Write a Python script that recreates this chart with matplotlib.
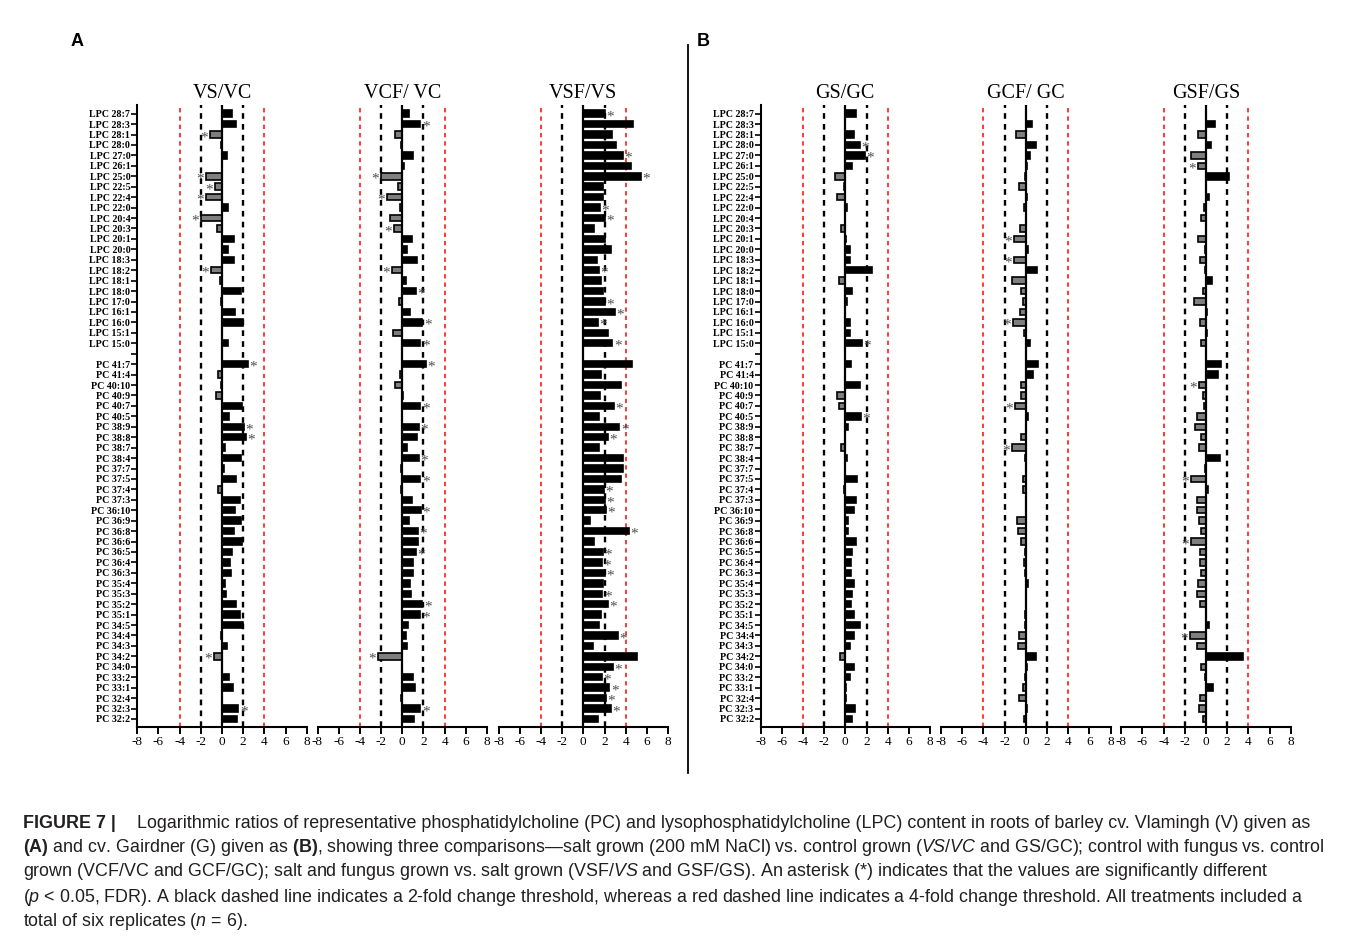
import matplotlib
matplotlib.use("Agg")
import matplotlib.pyplot as plt
from matplotlib.lines import Line2D
import numpy as np

# species on the y axis (top to bottom)
lpc_species = ["LPC 28:7", "LPC 28:3", "LPC 28:1", "LPC 28:0", "LPC 27:0", "LPC 26:1",
               "LPC 25:0", "LPC 22:5", "LPC 22:4", "LPC 22:0", "LPC 20:4", "LPC 20:3",
               "LPC 20:1", "LPC 20:0", "LPC 18:3", "LPC 18:2", "LPC 18:1", "LPC 18:0",
               "LPC 17:0", "LPC 16:1", "LPC 16:0", "LPC 15:1", "LPC 15:0"]
pc_species = ["PC 41:7", "PC 41:4", "PC 40:10", "PC 40:9", "PC 40:7", "PC 40:5", "PC 38:9",
              "PC 38:8", "PC 38:7", "PC 38:4", "PC 37:7", "PC 37:5", "PC 37:4", "PC 37:3",
              "PC 36:10", "PC 36:9", "PC 36:8", "PC 36:6", "PC 36:5", "PC 36:4", "PC 36:3",
              "PC 35:4", "PC 35:3", "PC 35:2", "PC 35:1", "PC 34:5", "PC 34:4", "PC 34:3",
              "PC 34:2", "PC 34:0", "PC 33:2", "PC 33:1", "PC 32:4", "PC 32:3", "PC 32:2"]

titles = ["VS/VC", "VCF/ VC", "VSF/VS", "GS/GC", "GCF/ GC", "GSF/GS"]

# log ratios, LPC block
vs_vc_lpc = [0.9, 1.3, -1.1, -0.05, 0.5, 0, -1.5, -0.65, -1.55, 0.6, -2.0, -0.45,
             1.1, 0.55, 1.15, -1.05, -0.15, 1.8, -0.08, 1.25, 1.95, 0, 0.6]
vcf_vc_lpc = [0.65, 1.7, -0.65, -0.1, 1.0, 0.2, -2.05, -0.4, -1.45, -0.2, -1.15, -0.75,
              0.9, 0.45, 1.35, -1.0, 0.35, 1.3, -0.3, 0.75, 1.9, -0.9, 1.7]
vsf_vs_lpc = [2.0, 4.7, 2.75, 3.05, 3.75, 4.5, 5.4, 1.9, 1.9, 1.6, 2.0, 1.05,
              2.0, 2.65, 1.25, 1.5, 1.7, 1.9, 2.0, 3.0, 1.35, 2.35, 2.75]
gs_gc_lpc = [1.0, -0.05, 0.8, 1.35, 1.85, 0.65, -0.95, -0.15, -0.8, 0.2, -0.05, -0.4,
             0.1, 0.4, 0.45, 2.55, -0.55, 0.65, 0.15, -0.05, 0.4, 0.4, 1.6]
gcf_gc_lpc = [0, 0.55, -0.95, 1.0, 0.45, 0.15, -0.1, -0.6, 0.15, -0.2, 0, -0.5,
              -1.1, 0.2, -1.15, 1.1, -1.3, -0.4, -0.3, -0.5, -1.2, -0.2, 0.45]
gsf_gs_lpc = [0, 0.85, -0.8, 0.45, -1.4, -0.8, 2.2, 0, 0.3, -0.2, -0.45, 0,
              -0.8, -0.1, -0.55, -0.1, 0.55, -0.3, -1.1, 0.1, -0.55, 0.1, -0.45]

# log ratios, PC block
vs_vc_pc = [2.45, -0.35, -0.08, -0.55, 1.85, 0.7, 2.1, 2.25, 0.3, 1.8, 0.2, 1.3,
            -0.4, 1.7, 1.25, 1.75, 1.15, 1.9, 0.95, 0.8, 0.85, 0.25, 0.35, 1.3,
            1.7, 2.0, -0.05, 0.5, -0.8, 0, 0.7, 1.05, 0, 1.55, 1.45]
vcf_vc_pc = [2.25, -0.2, -0.65, 0.05, 1.7, 0, 1.6, 1.4, 0.4, 1.6, -0.1, 1.7,
             -0.1, 0.9, 1.75, 0.6, 1.45, 1.5, 1.25, 1.0, 1.05, 0.7, 0.8, 1.9,
             1.7, 0.55, 0.35, 0.4, -2.3, 0, 1.0, 1.2, -0.1, 1.7, 1.15]
vsf_vs_pc = [4.55, 1.7, 3.6, 1.6, 2.85, 1.45, 3.4, 2.35, 1.45, 3.7, 3.75, 3.6,
             1.95, 2.05, 2.1, 0.65, 4.3, 1.05, 1.85, 1.75, 2.05, 1.9, 1.8, 2.3,
             1.7, 1.45, 3.25, 0.9, 5.05, 2.8, 1.75, 2.45, 2.1, 2.6, 1.4]
gs_gc_pc = [0.55, 0, 1.35, -0.75, -0.6, 1.5, 0.3, 0, -0.45, 0.2, -0.05, 1.15,
            -0.15, 1.0, 0.8, 0.3, 0.3, 1.05, 0.65, 0.5, 0.55, 0.85, 0.65, 0.55,
            0.85, 1.35, 0.8, 0.4, -0.5, 0.85, 0.45, 0.05, 0.05, 0.95, 0.6]
gcf_gc_pc = [1.15, 0.65, -0.4, -0.45, -1.05, 0.2, 0, -0.45, -1.3, -0.1, 0, -0.25,
             -0.25, 0.05, 0, -0.8, -0.75, -0.45, -0.1, -0.2, -0.1, 0.2, 0, 0,
             -0.1, -0.1, -0.65, -0.7, 1.0, 0.15, -0.05, -0.3, -0.65, 0.1, -0.2]
gsf_gs_pc = [1.4, 1.15, -0.7, -0.3, -0.2, -0.85, -1.0, -0.5, -0.7, 1.3, -0.1, -1.4,
             0.15, -0.85, -0.85, -0.7, -0.45, -1.4, -0.55, -0.55, -0.45, -0.75, -0.85, -0.55,
             0, 0.25, -1.55, -0.85, 3.45, -0.5, -0.1, 0.65, -0.55, -0.65, -0.3]

# significant species (asterisk)
vs_vc_sig = ["LPC 28:1", "LPC 25:0", "LPC 22:5", "LPC 22:4", "LPC 20:4", "LPC 18:2",
             "PC 41:7", "PC 38:9", "PC 38:8", "PC 34:2", "PC 32:3"]
vcf_vc_sig = ["LPC 28:3", "LPC 25:0", "LPC 22:4", "LPC 20:3", "LPC 18:2", "LPC 18:0",
              "LPC 16:0", "LPC 15:0", "PC 41:7", "PC 40:7", "PC 38:9", "PC 38:4",
              "PC 37:5", "PC 36:10", "PC 36:8", "PC 36:5", "PC 35:2", "PC 35:1",
              "PC 34:2", "PC 32:3"]
vsf_vs_sig = ["LPC 28:7", "LPC 27:0", "LPC 25:0", "LPC 22:0", "LPC 20:4", "LPC 18:2",
              "LPC 17:0", "LPC 16:1", "LPC 16:0", "LPC 15:0", "PC 40:7", "PC 38:9",
              "PC 38:8", "PC 37:4", "PC 37:3", "PC 36:10", "PC 36:8", "PC 36:5",
              "PC 36:4", "PC 36:3", "PC 35:3", "PC 35:2", "PC 34:4", "PC 34:0",
              "PC 33:2", "PC 33:1", "PC 32:4", "PC 32:3"]
gs_gc_sig = ["LPC 28:0", "LPC 27:0", "LPC 15:0", "PC 40:5"]
gcf_gc_sig = ["LPC 20:1", "LPC 18:3", "LPC 16:0", "PC 40:7", "PC 38:7"]
gsf_gs_sig = ["LPC 26:1", "PC 40:10", "PC 37:5", "PC 36:6", "PC 34:4"]

plt.rcParams['font.family'] = ['Liberation Serif', 'DejaVu Serif']
plt.rcParams['axes.unicode_minus'] = False
plt.rcParams['mathtext.fontset'] = 'custom'
plt.rcParams['mathtext.rm'] = 'Liberation Sans'
plt.rcParams['mathtext.it'] = 'Liberation Sans:italic'
plt.rcParams['mathtext.bf'] = 'Liberation Sans:bold'

W, H = 1354, 941
fig = plt.figure(figsize=(W / 100, H / 100), dpi=100)

zero_px = [222, 402.3, 583.3, 845.3, 1025.7, 1206]
unit_px = 10.6
top_px, bottom_px = 105, 726.7

labels = lpc_species + [""] + pc_species
ypos = np.arange(len(labels))


def draw_panel(ax, lpc_vals, pc_vals, sig, title, show_labels):
    vals = np.array(lpc_vals + [0] + pc_vals, dtype=float)
    colors = ["black" if v >= 0 else "#7f7f7f" for v in vals]
    ax.barh(ypos, vals, height=0.62, color=colors, edgecolor="black",
            linewidth=1.2, zorder=3)
    ax.axvline(0, color="black", lw=1.6, zorder=4)
    for x in (-2, 2):
        ax.axvline(x, color="black", ls=(0, (2.4, 2.2)), lw=1.7, zorder=2)
    for x in (-4, 4):
        ax.axvline(x, color="#ff2a2a", ls=(0, (2.4, 2.2)), lw=1.3, zorder=2)

    for name in sig:
        i = labels.index(name)
        v = vals[i]
        x = v + 0.5 if v > 0 else v - 0.55
        ax.text(x, i + 0.3, "*", ha="center", va="center", fontsize=11,
                color="#4d4d4d", zorder=5)

    ax.set_xlim(-8, 8)
    ax.set_ylim(58.74, -0.83)
    ax.set_xticks(np.arange(-8, 9, 2))
    ax.tick_params(axis="x", labelsize=9.5, width=1.4, length=5, pad=2)
    for s in ("top", "right"):
        ax.spines[s].set_visible(False)
    ax.spines["bottom"].set_linewidth(1.5)
    if show_labels:
        ax.spines["left"].set_linewidth(1.5)
        ax.set_yticks(ypos)
        ax.set_yticklabels(labels, fontsize=7.2, fontweight="bold")
        ax.tick_params(axis="y", width=1.2, length=4, pad=1)
    else:
        ax.spines["left"].set_visible(False)
        ax.set_yticks([])
    ax.set_title(title, fontsize=14.5, pad=5)


panels = [
    (vs_vc_lpc, vs_vc_pc, vs_vc_sig),
    (vcf_vc_lpc, vcf_vc_pc, vcf_vc_sig),
    (vsf_vs_lpc, vsf_vs_pc, vsf_vs_sig),
    (gs_gc_lpc, gs_gc_pc, gs_gc_sig),
    (gcf_gc_lpc, gcf_gc_pc, gcf_gc_sig),
    (gsf_gs_lpc, gsf_gs_pc, gsf_gs_sig),
]

for k, (lv, pv, sg) in enumerate(panels):
    left = (zero_px[k] - 8 * unit_px) / W
    ax = fig.add_axes([left, 1 - bottom_px / H, 16 * unit_px / W,
                       (bottom_px - top_px) / H])
    draw_panel(ax, lv, pv, sg, titles[k], k in (0, 3))

# panel letters and divider
fig.text(77 / W, 1 - 42 / H, "A", fontsize=13, fontweight="bold",
         family="Liberation Sans", ha="center", va="center")
fig.text(703 / W, 1 - 42 / H, "B", fontsize=13, fontweight="bold",
         family="Liberation Sans", ha="center", va="center")
fig.add_artist(Line2D([688 / W, 688 / W], [1 - 45 / H, 1 - 773 / H],
                      color="black", lw=1.3))

# caption
cap_color = "#231f20"
cap_size = 12.9
fig.text(23 / W, 1 - 823 / H, "FIGURE 7 |", fontsize=cap_size, fontweight="bold",
         family="Liberation Sans", color=cap_color, va="center")
caption = [
    "Logarithmic ratios of representative phosphatidylcholine (PC) and lysophosphatidylcholine "
    "(LPC) content in roots of barley cv. Vlamingh (V) given as",
    r"$\mathbf{(A)}$ and cv. Gairdner (G) given as $\mathbf{(B)}$, showing three comparisons"
    "\u2014salt grown "
    r"(200 mM NaCl) vs. control grown ($\mathit{VS/VC}$ and GS/GC); control with fungus vs. control",
    r"grown (VCF/VC and GCF/GC); salt and fungus grown vs. salt grown (VSF/$\mathit{VS}$ and GSF/GS). "
    "An asterisk (*) indicates that the values are significantly different",
    r"($\mathit{p}$ < 0.05, FDR). A black dashed line indicates a 2-fold change threshold, whereas a red "
    "dashed line indicates a 4-fold change threshold. All treatments included a",
    r"total of six replicates ($\mathit{n}$ = 6).",
]
cap_x = [137, 23, 23, 23, 23]
cap_y = [823, 848, 872, 897, 922]
for txt, x, y in zip(caption, cap_x, cap_y):
    fig.text(x / W, 1 - y / H, txt, fontsize=cap_size, family="Liberation Sans",
             color=cap_color, va="center")

fig.savefig("out.png", dpi=100)
